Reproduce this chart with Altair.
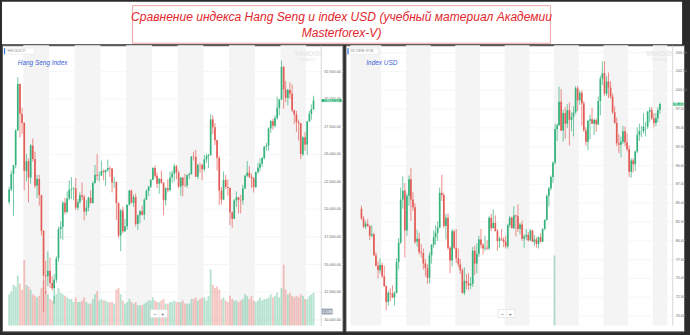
import altair as alt
import pandas as pd

# ---------------- text ----------------
title_line1 = "Сравнение индекса Hang Seng и index USD (учебный материал Академии"
title_line2 = "Masterforex-V)"
hsi_label = "Hang Seng Index"
dxy_label = "Index USD"
hsi_tag = "^HSI 16:07:17"
dxy_tag = "DX-Y.NYB: 97.08"

# ---------------- Hang Seng, monthly candles Jun 2007 .. Apr 2019 ----------------
hsi_first_month = "2007-06-01"
hsi_open = [20630, 21770, 23180, 23980, 27140, 31350, 28640,
            27810, 23460, 24330, 22850, 25760, 24530, 22100, 22730, 21260, 18020, 13970, 13890,
            14390, 13280, 12810, 13580, 15520, 18170, 18380, 20570, 19720, 20960, 21750, 21820,
            21870, 20120, 20610, 21240, 21110, 19770, 20130, 21030, 20540, 22360, 23100, 23010,
            23040, 23450, 23340, 23530, 23720, 23680, 22400, 22440, 20530, 17590, 19860, 17990,
            18430, 20390, 21680, 20560, 21090, 18630, 19440, 19800, 19480, 20840, 21640, 22030,
            22660, 23730, 23020, 22300, 22740, 22390, 20800, 21880, 21730, 22860, 23210, 23880,
            23310, 22040, 22840, 22150, 22130, 23080, 23190, 24760, 24740, 22930, 24000, 23990,
            23610, 24510, 24820, 24900, 28130, 27420, 26250, 24640, 21670, 20850, 22640, 22000,
            21910, 19680, 19110, 20780, 21070, 20820, 20790, 21890, 23020, 23300, 22930, 22790,
            22000, 23360, 23740, 24110, 24620, 25660, 25760, 27320, 27970, 27550, 28250, 29180,
            29920, 32890, 30850, 30090, 30810, 30470, 28960, 28580, 27890, 27790, 24980, 26510,
            25850, 27940, 28630, 29050]
hsi_high = [22000, 23500, 24000, 27250, 31960, 31400, 29200,
            27900, 25000, 24600, 25900, 26400, 25200, 23100, 23100, 21300, 18100, 15300, 16150,
            15600, 13900, 14100, 15700, 18400, 18900, 20700, 21000, 21600, 22600, 22900, 22000,
            22800, 20900, 21500, 22400, 21300, 20800, 21100, 21700, 22500, 24000, 24990, 23400,
            24400, 23600, 23600, 24470, 23900, 23700, 22900, 22500, 20600, 20000, 20200, 19100,
            20400, 21700, 21750, 21300, 21400, 19500, 19900, 20300, 21000, 21800, 22100, 22700,
            23800, 23950, 23300, 22800, 23500, 22400, 22000, 22700, 23400, 23500, 24100, 24000,
            23500, 22900, 22900, 23200, 23100, 23300, 24800, 25200, 25360, 24100, 24200, 24100,
            24900, 25000, 25000, 28590, 28500, 27800, 26300, 24800, 22000, 23400, 23100, 22700,
            21950, 19800, 20900, 21600, 21100, 21300, 22200, 23100, 24360, 23900, 23200, 22900,
            23400, 24200, 24600, 24700, 25700, 26000, 27400, 28100, 28200, 28500, 30200, 30000,
            33480, 33000, 31600, 30900, 31500, 31300, 29000, 28900, 28100, 27800, 26600, 27000,
            28000, 28900, 29500, 30280]
hsi_low = [20400, 21600, 19390, 23700, 27100, 26500, 26800,
           21700, 22500, 20600, 22300, 24300, 21900, 21000, 20300, 17600, 10680, 12300, 13000,
           12800, 12600, 11340, 13300, 15200, 17300, 17200, 19500, 19600, 20800, 20900, 20800,
           19900, 19900, 20500, 20800, 18970, 19400, 19800, 20500, 20500, 22300, 22600, 22500,
           23000, 22600, 22100, 23400, 22900, 21500, 21900, 19000, 17400, 16170, 17800, 17900,
           18100, 20300, 20500, 20200, 18400, 18100, 18700, 19400, 19000, 20800, 21200, 21900,
           22600, 22800, 21900, 21400, 22300, 19430, 20300, 21500, 21600, 22400, 22500, 22700,
           21900, 21200, 21140, 22000, 21900, 22700, 23100, 24400, 22900, 22700, 23300, 22600,
           23400, 24200, 23700, 24800, 26800, 25800, 23500, 20370, 20400, 20800, 21800, 21200,
           18530, 18300, 19100, 20200, 19600, 19600, 20400, 21800, 22900, 22800, 21900, 21500,
           21900, 23200, 23400, 23800, 24500, 25300, 25300, 26900, 27200, 27400, 28100, 28500,
           29900, 29100, 29700, 29400, 30000, 28800, 27700, 27000, 26200, 24540, 24800, 25300,
           24900, 27900, 28100, 29000]
hsi_close = [21770, 23180, 23980, 27140, 31350, 28640, 27810,
             23460, 24330, 22850, 25760, 24530, 22100, 22730, 21260, 18020, 13970, 13890, 14390,
             13280, 12810, 13580, 15520, 18170, 18380, 20570, 19720, 20960, 21750, 21820, 21870,
             20120, 20610, 21240, 21110, 19770, 20130, 21030, 20540, 22360, 23100, 23010, 23040,
             23450, 23340, 23530, 23720, 23680, 22400, 22440, 20530, 17590, 19860, 17990, 18430,
             20390, 21680, 20560, 21090, 18630, 19440, 19800, 19480, 20840, 21640, 22030, 22660,
             23730, 23020, 22300, 22740, 22390, 20800, 21880, 21730, 22860, 23210, 23880, 23310,
             22040, 22840, 22150, 22130, 23080, 23190, 24760, 24740, 22930, 24000, 23990, 23610,
             24510, 24820, 24900, 28130, 27420, 26250, 24640, 21670, 20850, 22640, 22000, 21910,
             19680, 19110, 20780, 21070, 20820, 20790, 21890, 23020, 23300, 22930, 22790, 22000,
             23360, 23740, 24110, 24620, 25660, 25760, 27320, 27970, 27550, 28250, 29180, 29920,
             32890, 30850, 30090, 30810, 30470, 28960, 28580, 27890, 27790, 24980, 26510, 25850,
             27940, 28630, 29050, 29842]
hsi_volume_bn = [2.0, 2.2, 2.6, 2.5, 3.2, 2.7, 2.3,
                 4.2, 2.6, 2.5, 2.3, 2.0, 1.9, 1.8, 1.9, 2.4, 2.9, 2.2, 2.0,
                 1.7, 1.6, 1.9, 2.0, 2.4, 2.1, 2.0, 1.9, 1.8, 1.7, 1.7, 1.5,
                 1.8, 1.5, 1.5, 1.6, 1.8, 1.5, 1.4, 1.4, 1.7, 2.0, 2.2, 1.6,
                 1.7, 1.6, 1.6, 1.5, 1.5, 1.5, 1.4, 2.3, 2.4, 2.0, 1.6, 1.4,
                 1.5, 1.7, 1.5, 1.4, 1.5, 1.3, 1.3, 1.3, 1.4, 1.5, 1.6, 1.6,
                 1.8, 1.6, 1.5, 1.5, 1.6, 1.7, 1.4, 1.4, 1.5, 1.5, 1.6, 1.5,
                 1.5, 1.5, 1.6, 1.4, 1.4, 1.4, 1.7, 1.7, 1.8, 1.6, 1.7, 1.8,
                 1.8, 1.6, 1.9, 3.6, 2.6, 2.4, 2.5, 2.3, 1.7, 1.8, 1.6, 1.5,
                 1.9, 1.7, 1.6, 1.6, 1.5, 1.6, 1.7, 2.0, 1.9, 1.7, 1.9, 1.6,
                 1.5, 1.6, 1.8, 1.6, 1.7, 1.7, 1.8, 2.0, 1.8, 1.9, 2.1, 1.8,
                 2.4, 3.9, 2.3, 2.0, 2.1, 1.9, 1.8, 1.9, 1.8, 2.0, 1.9, 1.7,
                 1.7, 1.9, 2.0, 2.1]
hsi_ticks = [10000, 12500, 15000, 17500, 20000, 22500, 25000, 27500, 30000, 32500]

# ---------------- US Dollar index, monthly candles Mar 2007 .. Apr 2019 ----------------
dxy_first_month = "2007-03-01"
dxy_open = [84.2, 82.9, 81.8, 82.2, 81.9, 80.6, 80.8, 78.0, 76.6, 76.0,
            76.7, 75.2, 73.9, 71.8, 73.0, 72.9, 72.4, 73.0, 77.1, 79.7, 85.4, 86.6,
            81.3, 85.9, 88.1, 85.4, 84.4, 79.8, 80.2, 78.4, 78.3, 76.9, 76.3, 75.0,
            78.0, 79.4, 80.4, 81.0, 81.7, 86.3, 86.0, 81.9, 83.0, 79.0, 77.3, 81.2,
            79.0, 77.6, 76.8, 76.0, 73.0, 74.6, 74.3, 74.0, 74.2, 78.6, 76.9, 78.2,
            80.1, 79.4, 78.9, 79.0, 78.9, 83.0, 81.6, 82.3, 81.2, 79.9, 80.2, 80.1,
            79.8, 79.2, 82.0, 83.0, 81.6, 83.3, 83.2, 81.5, 82.1, 80.2, 80.5, 80.7,
            80.0, 81.3, 79.8, 80.1, 79.5, 80.4, 79.8, 81.5, 82.7, 85.9, 86.9, 88.4,
            90.3, 94.8, 95.3, 98.4, 94.6, 96.9, 95.5, 97.3, 96.0, 96.4, 97.0, 100.2,
            98.6, 99.6, 98.2, 94.6, 93.1, 95.9, 96.1, 95.5, 96.0, 95.4, 98.5, 101.5,
            102.2, 99.5, 101.1, 100.3, 99.1, 97.0, 95.6, 92.9, 92.7, 93.1, 94.5, 93.0,
            92.1, 89.1, 90.6, 90.1, 91.8, 94.0, 94.5, 94.5, 95.1, 95.1, 97.1, 97.3,
            96.2, 95.6, 96.2, 97.3]
dxy_high = [84.6, 83.2, 82.6, 82.8, 82.0, 82.0, 81.0, 78.4, 77.2, 77.6,
            77.0, 76.6, 74.0, 73.3, 73.6, 74.0, 73.2, 77.6, 80.3, 87.0, 88.5, 87.6,
            86.2, 88.6, 89.6, 86.4, 84.9, 81.4, 81.0, 79.5, 78.9, 77.5, 76.8, 78.4,
            79.5, 81.3, 82.0, 82.5, 87.0, 88.7, 86.3, 83.5, 83.6, 79.2, 81.5, 81.4,
            81.5, 78.9, 77.5, 76.3, 76.4, 75.5, 75.6, 75.1, 79.1, 79.3, 79.6, 80.6,
            81.5, 79.6, 80.6, 80.0, 83.2, 83.5, 84.1, 83.3, 81.5, 80.5, 81.5, 80.4,
            80.6, 82.2, 83.2, 83.1, 84.5, 83.4, 84.8, 82.3, 82.6, 80.8, 81.5, 81.1,
            81.5, 81.4, 80.7, 80.4, 80.5, 80.9, 81.6, 82.8, 86.1, 87.1, 88.6, 90.5,
            95.5, 95.5, 100.4, 100.1, 97.4, 97.7, 98.1, 98.3, 97.0, 97.8, 100.5, 100.5,
            99.9, 99.9, 98.5, 95.0, 96.0, 96.7, 97.6, 96.2, 96.2, 99.1, 101.9, 103.8,
            103.8, 101.8, 102.3, 101.1, 99.5, 97.8, 96.3, 94.1, 93.8, 95.2, 95.1, 94.2,
            92.6, 90.9, 90.9, 91.9, 95.0, 95.5, 95.2, 96.9, 95.7, 97.2, 97.7, 97.7,
            96.9, 96.9, 97.7, 98.3]
dxy_low = [82.7, 81.6, 81.5, 81.8, 80.0, 80.4, 77.9, 76.5, 74.9, 75.6,
           75.0, 73.8, 70.7, 71.3, 71.9, 72.3, 71.3, 72.9, 76.1, 79.5, 84.2, 77.7,
           80.6, 84.6, 82.6, 83.9, 79.5, 79.1, 78.1, 77.7, 76.1, 75.2, 74.2, 74.3,
           76.9, 79.0, 79.4, 79.9, 81.6, 85.2, 81.6, 80.1, 78.7, 75.6, 76.5, 78.8,
           77.0, 76.4, 75.5, 72.9, 72.7, 73.5, 73.4, 73.5, 73.8, 75.4, 75.6, 77.8,
           78.9, 78.1, 78.6, 78.7, 78.7, 81.2, 81.6, 81.2, 78.6, 79.0, 79.9, 79.1,
           78.9, 78.9, 81.7, 81.6, 81.5, 80.5, 81.1, 80.8, 79.9, 79.0, 80.0, 79.8,
           79.9, 79.8, 79.2, 79.0, 78.9, 79.7, 79.8, 81.3, 82.6, 84.5, 86.6, 87.6,
           90.1, 93.2, 95.2, 94.5, 93.1, 93.5, 94.9, 92.6, 94.5, 93.8, 96.8, 97.2,
           98.0, 95.2, 94.4, 92.6, 92.0, 93.4, 95.5, 94.0, 94.4, 95.3, 96.6, 100.6,
           99.2, 99.2, 98.9, 98.8, 96.8, 95.5, 92.5, 91.6, 91.0, 92.8, 92.5, 91.8,
           88.4, 88.3, 89.0, 89.2, 91.6, 93.2, 93.7, 94.2, 93.8, 94.8, 95.7, 96.0,
           95.0, 95.2, 95.7, 96.8]
dxy_close = [82.9, 81.8, 82.2, 81.9, 80.6, 80.8, 78.0, 76.6, 76.0, 76.7,
             75.2, 73.9, 71.8, 73.0, 72.9, 72.4, 73.0, 77.1, 79.7, 85.4, 86.6, 81.3,
             85.9, 88.1, 85.4, 84.4, 79.8, 80.2, 78.4, 78.3, 76.9, 76.3, 75.0, 78.0,
             79.4, 80.4, 81.0, 81.7, 86.3, 86.0, 81.9, 83.0, 79.0, 77.3, 81.2, 79.0,
             77.6, 76.8, 76.0, 73.0, 74.6, 74.3, 74.0, 74.2, 78.6, 76.9, 78.2, 80.1,
             79.4, 78.9, 79.0, 78.9, 83.0, 81.6, 82.3, 81.2, 79.9, 80.2, 80.1, 79.8,
             79.2, 82.0, 83.0, 81.6, 83.3, 83.2, 81.5, 82.1, 80.2, 80.5, 80.7, 80.0,
             81.3, 79.8, 80.1, 79.5, 80.4, 79.8, 81.5, 82.7, 85.9, 86.9, 88.4, 90.3,
             94.8, 95.3, 98.4, 94.6, 96.9, 95.5, 97.3, 96.0, 96.4, 97.0, 100.2, 98.6,
             99.6, 98.2, 94.6, 93.1, 95.9, 96.1, 95.5, 96.0, 95.4, 98.5, 101.5, 102.2,
             99.5, 101.1, 100.3, 99.1, 97.0, 95.6, 92.9, 92.7, 93.1, 94.5, 93.0, 92.1,
             89.1, 90.6, 90.1, 91.8, 94.0, 94.5, 94.5, 95.1, 95.1, 97.1, 97.3, 96.2,
             95.6, 96.2, 97.3, 98.1]
dxy_volume_dates = ["2015-01-06"]
dxy_volume = [2.5]
dxy_ticks = [70, 72.5, 75, 77.5, 80, 82.5, 85, 87.5, 90, 92.5, 95, 97.5, 100, 102.5, 105]

years = list(range(2008, 2020))

# ---------------- style ----------------
FONT = "Liberation Sans"
GREEN = "#35b27c"
RED = "#e35d57"
H = 289          # panel height (incl. x labels)
PLOT_H = 283     # plot area height
W_L, PLOT_W_L = 344, 322
W_R, PLOT_W_R = 342, 330


def candles(first, o, h, l, c, vol=None):
    dates = pd.date_range(first, periods=len(c), freq="MS") + pd.Timedelta(days=14)
    df = pd.DataFrame({"date": dates, "open": o, "high": h, "low": l, "close": c})
    df["dir"] = ["up" if cc >= oo else "down" for oo, cc in zip(o, c)]
    if vol is not None:
        df["vol"] = vol
    return df


hsi_df = candles(hsi_first_month, hsi_open, hsi_high, hsi_low, hsi_close, hsi_volume_bn)
dxy_df = candles(dxy_first_month, dxy_open, dxy_high, dxy_low, dxy_close)
dxy_vol_df = pd.DataFrame({"date": pd.to_datetime(dxy_volume_dates), "vol": dxy_volume, "dir": ["up"]})

color_enc = alt.Color("dir:N", scale=alt.Scale(domain=["up", "down"], range=[GREEN, RED]), legend=None)


def dt(y, m, d):
    return alt.DateTime(year=y, month=m, date=d)


def panel(df, vol_df, width, plot_w, x_dom, y_dom, y_ticks, y_fmt, bands_df, label, label_x, tag,
          vol_dom, box_w, vol_text=None):
    xs = alt.Scale(domain=x_dom, range=[0, plot_w])
    ys = alt.Scale(domain=y_dom, range=[PLOT_H, 0], zero=False, nice=False)
    x_axis = alt.Axis(values=[dt(y, 1, 1) for y in years], format="%Y", labelFontSize=3.8,
                      labelColor="#7a7a7a", labelFont=FONT, ticks=False, domainColor="#cfcfcf",
                      grid=False, labelPadding=1, offset=PLOT_H - H, title=None,
                      labelFlush=False, labelOverlap=False)
    y_axis = alt.Axis(orient="right", offset=plot_w - width, values=y_ticks, format=y_fmt,
                      labelFontSize=3.8, labelColor="#6f6f6f", labelFont=FONT, ticks=False,
                      domain=True, domainColor="#d8d8d8", grid=True, gridColor="#efefef",
                      gridWidth=0.6, labelPadding=3, title=None, labelFlush=False,
                      labelOverlap=False)

    bands = alt.Chart(bands_df).mark_rect(color="#f4f4f4").encode(
        x=alt.X("start:T", scale=xs, axis=x_axis), x2="end:T",
        y=alt.value(0), y2=alt.value(PLOT_H))

    vol = alt.Chart(vol_df).mark_bar(size=1.9, opacity=0.36).encode(
        x=alt.X("date:T", scale=xs, axis=None),
        y=alt.Y("vol:Q", scale=alt.Scale(domain=vol_dom, range=[PLOT_H, 0]), axis=None),
        color=color_enc)

    wick = alt.Chart(df).mark_rule(strokeWidth=0.7).encode(
        x=alt.X("date:T", scale=xs, axis=None),
        y=alt.Y("low:Q", scale=ys, axis=y_axis), y2="high:Q", color=color_enc)

    body = alt.Chart(df).mark_bar(size=1.7).encode(
        x=alt.X("date:T", scale=xs, axis=None),
        y=alt.Y("open:Q", scale=ys, axis=None), y2="close:Q", color=color_enc)

    last = df.tail(1)
    r = 3.0 / box_w
    box_cx = plot_w + 1 + box_w / 2
    price_box = alt.Chart(last).mark_point(shape=f"M-1,-{r:.4f}H1V{r:.4f}H-1Z", filled=True,
                                           size=box_w * box_w, opacity=1, color="#27b06e").encode(
        x=alt.value(box_cx), y=alt.Y("close:Q", scale=ys, axis=None))
    price_txt = alt.Chart(last).mark_text(fontSize=3.8, color="white", font=FONT).encode(
        x=alt.value(box_cx), y=alt.Y("close:Q", scale=ys, axis=None),
        text=alt.Text("close:Q", format=".2f"))

    one = pd.DataFrame({"t": [label]})
    label_txt = alt.Chart(one).mark_text(fontSize=6.5, fontStyle="italic", color="#3b5fd6",
                                         align="left", font=FONT).encode(
        x=alt.value(label_x), y=alt.value(18), text="t:N")

    tag_df = pd.DataFrame({"t": [tag]})
    tag_box = alt.Chart(tag_df).mark_rect(fill="white", stroke="#e2e2e2", strokeWidth=0.5).encode(
        x=alt.value(2), x2=alt.value(33), y=alt.value(3), y2=alt.value(9))
    tag_bar = alt.Chart(tag_df).mark_rect(fill="#2a7ae2").encode(
        x=alt.value(2), x2=alt.value(3.2), y=alt.value(3), y2=alt.value(9))
    tag_txt = alt.Chart(tag_df).mark_text(fontSize=3, color="#777", align="left", font=FONT).encode(
        x=alt.value(5), y=alt.value(6.2), text="t:N")

    wm_df = pd.DataFrame({"a": ["YAHOO!"], "b": ["FINANCE"]})
    wm1 = alt.Chart(wm_df).mark_text(fontSize=7, color="#e6e6e6", font=FONT, fontWeight="bold").encode(
        x=alt.value(plot_w - 13), y=alt.value(9), text="a:N")
    wm2 = alt.Chart(wm_df).mark_text(fontSize=3.6, color="#e6e6e6", font=FONT).encode(
        x=alt.value(plot_w - 13), y=alt.value(15), text="b:N")

    zoom_df = pd.DataFrame({"m": ["−"], "p": ["+"]})
    zx = plot_w / 2 - 3
    zoom_box = alt.Chart(zoom_df).mark_rect(fill="white", stroke="#dcdcdc", strokeWidth=0.6).encode(
        x=alt.value(zx - 8), x2=alt.value(zx + 9), y=alt.value(267), y2=alt.value(275))
    zoom_sep = alt.Chart(zoom_df).mark_rule(color="#dcdcdc", strokeWidth=0.6).encode(
        x=alt.value(zx + 0.5), y=alt.value(268), y2=alt.value(274))
    zoom_m = alt.Chart(zoom_df).mark_text(fontSize=6, color="#666", font=FONT).encode(
        x=alt.value(zx - 3.5), y=alt.value(271), text="m:N")
    zoom_p = alt.Chart(zoom_df).mark_text(fontSize=6, color="#666", font=FONT).encode(
        x=alt.value(zx + 4.5), y=alt.value(271), text="p:N")

    layers = [bands, vol, wick, body, label_txt, tag_box, tag_bar, tag_txt, wm1, wm2,
              zoom_box, zoom_sep, zoom_m, zoom_p]
    if vol_text is not None:
        vt_df = pd.DataFrame({"t": [vol_text]})
        vbox = alt.Chart(vt_df).mark_rect(fill="#9aa6b2").encode(
            x=alt.value(plot_w + 1), x2=alt.value(plot_w + 12), y=alt.value(266), y2=alt.value(272))
        vtxt = alt.Chart(vt_df).mark_text(fontSize=3.6, color="white", font=FONT).encode(
            x=alt.value(plot_w + 6.5), y=alt.value(269), text="t:N")
        layers += [vbox, vtxt]
    layers += [price_box, price_txt]

    return alt.layer(*layers).resolve_scale(y="independent").properties(
        width=width, height=H,
        view=alt.ViewBackground(fill="white", stroke="#5c5c5c", strokeWidth=1))


# year bands
left_bands = pd.DataFrame({
    "start": pd.to_datetime([f"{y}-01-01" for y in range(2008, 2019, 2)]),
    "end": pd.to_datetime([f"{y + 1}-01-01" for y in range(2008, 2019, 2)]),
})
right_starts = ["2006-10-03"] + [f"{y}-01-01" for y in range(2009, 2020, 2)]
right_ends = [f"{y + 1}-01-01" for y in range(2007, 2018, 2)] + ["2019-08-01"]
right_bands = pd.DataFrame({"start": pd.to_datetime(right_starts), "end": pd.to_datetime(right_ends)})

left = panel(hsi_df, hsi_df, W_L, PLOT_W_L, [dt(2007, 5, 14), dt(2019, 5, 17)], [9432, 34863],
             hsi_ticks, ",.2f", left_bands, hsi_label, 16, hsi_tag, [0, 18], 20,
             vol_text=f"{hsi_volume_bn[-1]:.2f}B")
right = panel(dxy_df, dxy_vol_df, W_R, PLOT_W_R, [dt(2006, 10, 3), dt(2019, 8, 1)], [68.68, 105.92],
              dxy_ticks, ".2f", right_bands, dxy_label, 21, dxy_tag, [0, 10], 10.5)

# title strip
t_df = pd.DataFrame({"a": [title_line1], "b": [title_line2]})
t_box = alt.Chart(t_df).mark_rect(fill="white", stroke="#f0a4a4", strokeWidth=1).encode(
    x=alt.value(132), x2=alt.value(554), y=alt.value(4), y2=alt.value(42))
t1 = alt.Chart(t_df).mark_text(fontSize=12.2, fontStyle="italic", color="#e3262b", font=FONT).encode(
    x=alt.value(343), y=alt.value(15), text="a:N")
t2 = alt.Chart(t_df).mark_text(fontSize=12.2, fontStyle="italic", color="#e3262b", font=FONT).encode(
    x=alt.value(343), y=alt.value(32), text="b:N")
title_chart = alt.layer(t_box, t1, t2).properties(
    width=W_L + 1 + W_R, height=43,
    view=alt.ViewBackground(fill="white", stroke="white", strokeWidth=0))

chart = alt.vconcat(title_chart, alt.hconcat(left, right, spacing=1), spacing=0).properties(
    background="#2b2b2b",
    padding={"left": 1, "top": 0, "right": 2, "bottom": 3},
)

chart.save("out.html", embed_options={"renderer": "svg", "actions": False})
